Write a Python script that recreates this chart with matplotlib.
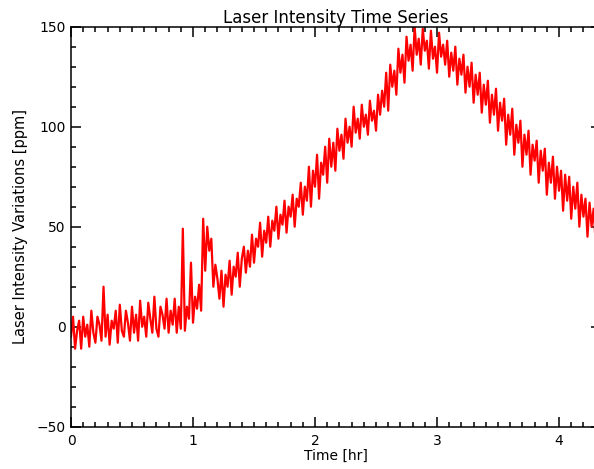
import numpy as np
import matplotlib
matplotlib.use("Agg")
import matplotlib.pyplot as plt
from matplotlib.ticker import MultipleLocator

# one sample per minute (ppm)
minutes_per_hr = 60.0
intensity_ppm = [
    -5, 5, -11, -2, 3, -11, 5, -5, 1, -10,
    8, -3, -8, 5, 1, -7, 20, -5, 6, -9,
    3, -1, 8, -8, 11, -2, -5, 8, 2, -7,
    10, -3, 6, -7, 13, 0, 5, -5, 12, 4,
    -3, 15, -1, -5, 10, 6, -1, 14, -3, 8,
    1, 14, -3, 10, -1, 49, -2, 10, 4, 32,
    2, 15, 9, 21, 8, 54, 28, 50, 38, 44,
    20, 31, 24, 14, 28, 10, 26, 20, 33, 16,
    30, 25, 37, 20, 34, 40, 27, 38, 30, 46,
    32, 44, 40, 52, 35, 48, 42, 55, 40, 53,
    48, 60, 44, 56, 51, 63, 47, 60, 55, 66,
    50, 64, 60, 72, 56, 70, 63, 80, 60, 78,
    70, 86, 64, 82, 76, 90, 72, 94, 80, 92,
    78, 99, 88, 96, 84, 104, 92, 100, 90, 110,
    97, 104, 94, 111, 100, 106, 96, 113, 103, 108,
    98, 116, 106, 118, 110, 127, 108, 131, 120, 128,
    116, 139, 127, 136, 122, 145, 133, 141, 128, 150,
    136, 144, 131, 149, 138, 143, 129, 148, 134, 140,
    127, 147, 135, 141, 131, 143, 125, 137, 128, 140,
    121, 134, 126, 136, 117, 130, 120, 132, 112, 126,
    116, 127, 107, 121, 111, 123, 102, 116, 106, 119,
    98, 112, 103, 114, 91, 106, 96, 109, 86, 101,
    92, 103, 80, 96, 86, 98, 76, 91, 83, 93,
    72, 88, 78, 89, 66, 82, 72, 85, 64, 80,
    68, 78, 58, 76, 63, 75, 54, 70, 59, 72,
    50, 66, 55, 64, 45, 62, 50, 59, 42, 55,
    47,
]
time_hr = np.arange(len(intensity_ppm)) / minutes_per_hr

plt.rcParams['font.family'] = 'DejaVu Sans'

fig = plt.figure(figsize=(5.94, 4.69), dpi=100)
# right edge of the axes sits just past the figure edge, as in the original
ax = fig.add_axes([71 / 594, 42.3 / 469, 530 / 594, 400 / 469])

ax.plot(time_hr, intensity_ppm, color='red', lw=1.6)

ax.set_xlim(0, 4.344)
ax.set_ylim(-50, 150)
ax.xaxis.set_major_locator(MultipleLocator(1))
ax.xaxis.set_minor_locator(MultipleLocator(0.1))
ax.yaxis.set_major_locator(MultipleLocator(50))
ax.yaxis.set_minor_locator(MultipleLocator(10))
ax.tick_params(which='both', direction='in', top=True, right=True,
               width=1.1, labelsize=10, colors='black')
ax.tick_params(which='major', length=7)
ax.tick_params(which='minor', length=3.5)
ax.tick_params(axis='y', pad=4)
ax.tick_params(axis='x', pad=5)
for s in ax.spines.values():
    s.set_linewidth(1.1)

ax.set_title('Laser Intensity Time Series', fontsize=12, pad=2)
ax.set_xlabel('Time [hr]', fontsize=10, labelpad=1)
ax.set_ylabel('Laser Intensity Variations [ppm]', fontsize=10.5, labelpad=6)

fig.savefig('out.png', dpi=100)
